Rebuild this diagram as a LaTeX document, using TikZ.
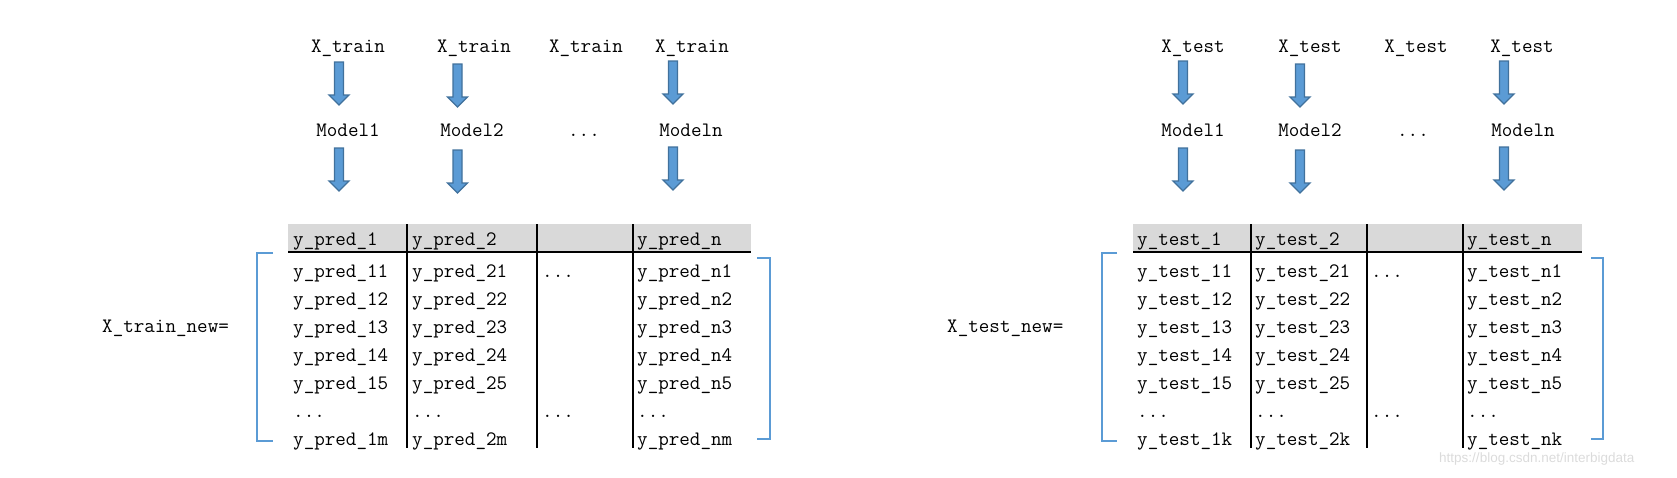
\documentclass[tikz,border=0pt]{standalone}
\usepackage{fontspec}
\newfontfamily\wmfont{Liberation Sans}
\definecolor{brblue}{HTML}{5B9BD5}
\definecolor{arrfill}{HTML}{5B9BD5}
\definecolor{arrdraw}{HTML}{41719C}
\definecolor{headgray}{HTML}{D9D9D9}
\tikzset{
  lbl/.style={font=\fontsize{20.5}{24}\ttfamily, inner sep=0pt, anchor=base},
  cell/.style={font=\fontsize{20.5}{24}\ttfamily, inner sep=0pt, anchor=base west},
  gridline/.style={line width=1.15pt, black},
  brk/.style={line width=2.6pt, brblue},
  blk/.style={fill=arrfill, draw=arrdraw, line width=1.3pt, line join=miter},
  pics/barrow/.style={code={\path[blk] (-4.5,0) -- (4.5,0) -- (4.5,33) -- (10,33) -- (0,43) -- (-10,33) -- (-4.5,33) -- cycle;}}
}
\begin{document}
\begin{tikzpicture}[x=1pt,y=-1pt]
\useasboundingbox (0,0) rectangle (1677,477);

% ---------------- left part ----------------
\node[lbl] (lt1) at (348,52) {X\_train};
\node[lbl] (lt2) at (474,52) {X\_train};
\node[lbl] (lt3) at (586,52) {X\_train};
\node[lbl] (lt4) at (692,52) {X\_train};
\node[lbl] (lm1) at (348,136) {Model1};
\node[lbl] (lm2) at (472,136) {Model2};
\node[lbl] (lm3) at (584,136) {...};
\node[lbl] (lm4) at (691,136) {Modeln};
\pic at (339,62) {barrow};
\pic at (457.5,64) {barrow};
\pic at (673,61) {barrow};
\pic at (339,148) {barrow};
\pic at (457.5,150) {barrow};
\pic at (673,147) {barrow};

\fill[headgray] (288,224) rectangle (751,252);
\draw[gridline] (288,252) -- (751,252);
\foreach \x in {407,537,633} \draw[gridline] (\x,224) -- (\x,448);

\node[cell] (lh1) at (293,245) {y\_pred\_1};
\node[cell] (lh2) at (412,245) {y\_pred\_2};
\node[cell] (lh4) at (637,245) {y\_pred\_n};
\foreach \k [evaluate=\k as \y using 249+28*\k] in {1,...,5} {
  \node[cell] (la\k) at (293,\y) {y\_pred\_1\k};
  \node[cell] (lb\k) at (412,\y) {y\_pred\_2\k};
  \node[cell] (ld\k) at (637,\y) {y\_pred\_n\k};
}
\node[cell] (lc1) at (542,277) {...};
\node[cell] (la6) at (293,417) {...};
\node[cell] (lb6) at (412,417) {...};
\node[cell] (lc6) at (542,417) {...};
\node[cell] (ld6) at (637,417) {...};
\node[cell] (la7) at (293,445) {y\_pred\_1m};
\node[cell] (lb7) at (412,445) {y\_pred\_2m};
\node[cell] (ld7) at (637,445) {y\_pred\_nm};

\node[cell] (lnew) at (102,332) {X\_train\_new=};
\draw[brk] (273,253) -- (257,253) -- (257,441) -- (273,441);
\draw[brk] (757,258) -- (770,258) -- (770,439) -- (757,439);

% ---------------- right part ----------------
\node[lbl] (rt1) at (1193,52) {X\_test};
\node[lbl] (rt2) at (1310,52) {X\_test};
\node[lbl] (rt3) at (1416,52) {X\_test};
\node[lbl] (rt4) at (1522,52) {X\_test};
\node[lbl] (rm1) at (1193,136) {Model1};
\node[lbl] (rm2) at (1310,136) {Model2};
\node[lbl] (rm3) at (1413,136) {...};
\node[lbl] (rm4) at (1523,136) {Modeln};
\pic at (1183,61) {barrow};
\pic at (1300,64) {barrow};
\pic at (1504,61) {barrow};
\pic at (1183,148) {barrow};
\pic at (1300,150) {barrow};
\pic at (1504,147) {barrow};

\fill[headgray] (1133,224) rectangle (1582,252);
\draw[gridline] (1133,252) -- (1582,252);
\foreach \x in {1251,1367,1463} \draw[gridline] (\x,224) -- (\x,448);

\node[cell] (rh1) at (1137,245) {y\_test\_1};
\node[cell] (rh2) at (1255,245) {y\_test\_2};
\node[cell] (rh4) at (1467,245) {y\_test\_n};
\foreach \k [evaluate=\k as \y using 249+28*\k] in {1,...,5} {
  \node[cell] (ra\k) at (1137,\y) {y\_test\_1\k};
  \node[cell] (rb\k) at (1255,\y) {y\_test\_2\k};
  \node[cell] (rd\k) at (1467,\y) {y\_test\_n\k};
}
\node[cell] (rc1) at (1371,277) {...};
\node[cell] (ra6) at (1137,417) {...};
\node[cell] (rb6) at (1255,417) {...};
\node[cell] (rc6) at (1371,417) {...};
\node[cell] (rd6) at (1467,417) {...};
\node[cell] (ra7) at (1137,445) {y\_test\_1k};
\node[cell] (rb7) at (1255,445) {y\_test\_2k};
\node[cell] (rd7) at (1467,445) {y\_test\_nk};

\node[cell] (rnew) at (947,332) {X\_test\_new=};
\draw[brk] (1117,253) -- (1102,253) -- (1102,441) -- (1117,441);
\draw[brk] (1591,258) -- (1603,258) -- (1603,439) -- (1591,439);

\node[anchor=west, inner sep=0pt, font=\wmfont\fontsize{13.5}{16}\selectfont, text=black!14] (wm) at (1439,459) {https://blog.csdn.net/interbigdata};
\end{tikzpicture}
\end{document}
